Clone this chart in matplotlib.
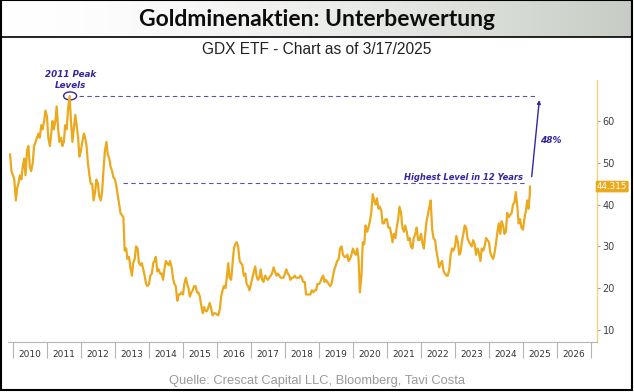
import numpy as np
import pandas as pd
import matplotlib
matplotlib.use("Agg")
import matplotlib.pyplot as plt
from matplotlib import font_manager as fm
from matplotlib.patches import Rectangle, Ellipse

# ---------------- data ----------------
title = "Goldminenaktien: Unterbewertung"
subtitle = "GDX ETF - Chart as of 3/17/2025"
source = "Quelle: Crescat Capital LLC, Bloomberg, Tavi Costa"

years = list(range(2010, 2027))
ytick_vals = [10, 20, 30, 40, 50, 60]

gdx_2009 = [52, 48]
gdx_2010 = [47, 46, 41, 44, 45, 47, 46, 49, 51, 47, 53, 54, 49, 48, 50, 54, 55, 56, 57, 56, 59, 58, 60, 62.5]
gdx_2011 = [61, 56, 54, 57, 60, 58, 60, 63.5, 58, 55, 56, 54, 55, 59, 58, 63, 66, 60, 55, 58, 61.5, 59, 56, 51.5]
gdx_2012 = [53, 55, 57, 56, 54, 50, 47, 45, 45, 41, 43, 46, 45, 42, 41, 43, 49, 53, 55, 52, 51, 49, 48, 46.5]
gdx_2013 = [46, 44.5, 42, 40, 38, 37.5, 37, 29, 29.5, 27, 27.5, 25, 23, 26, 27, 30, 29.5, 26, 25.5, 26, 24.5, 23, 21, 20.5]
gdx_2014 = [21, 23, 23.5, 26, 26.5, 27.5, 24, 24.5, 23.5, 23.5, 22, 24.5, 26.5, 26, 25.5, 26.5, 25, 22.5, 21, 20.5, 17, 18.5, 18.5, 19]
gdx_2015 = [18.5, 21, 22.5, 21, 20, 18, 19, 19.5, 20.5, 20.5, 19, 19, 18, 16, 14, 15.5, 14.5, 14.5, 15.5, 16.5, 15, 13.5, 14, 14]
gdx_2016 = [13.7, 13.5, 15, 18, 19.5, 20.5, 20, 22.5, 26, 22.5, 22, 25.5, 29.5, 30.5, 31, 30, 26.5, 26, 25.5, 23, 23.5, 21, 20.5, 19.5]
gdx_2017 = [21, 22.5, 24, 25.2, 23, 22, 22.5, 24.5, 22, 21.5, 23, 22.5, 22, 22.5, 23, 23.5, 25, 24, 23, 23.5, 23, 22.5, 22.5, 22.5]
gdx_2018 = [23.5, 24.5, 23.5, 23, 22, 22.5, 22.5, 23, 22.5, 22.5, 22.5, 23, 22.5, 21.5, 21.5, 18.5, 18.5, 18.5, 18.5, 19.5, 19, 19.5, 19.5, 21]
gdx_2019 = [21, 21.5, 22.5, 23, 21.5, 22, 21.5, 21, 20.5, 21, 23, 24.5, 25.5, 26.5, 27, 29.5, 30, 28, 27.5, 27.5, 28, 26.5, 27, 28]
gdx_2020 = [29.5, 28.5, 28, 29.5, 27, 19, 23, 31, 30.5, 35, 33.5, 34.5, 36, 38, 42.5, 41, 40, 41.5, 39, 39.5, 38.5, 35.5, 35.5, 36.5]
gdx_2021 = [36.5, 34.5, 34.5, 33, 31, 33, 32, 34.5, 36.5, 39.5, 38, 34.5, 33.5, 35, 33.5, 31.5, 32, 30, 29.5, 32, 33, 34.5, 31.5, 31.5]
gdx_2022 = [33, 31, 29.5, 33, 36, 37.5, 39.5, 41, 34, 32, 31.5, 29, 27, 25, 26, 26.5, 24, 23.5, 23, 23, 24.5, 28, 29.5, 29]
gdx_2023 = [30, 32.5, 31, 28, 28.5, 31, 33, 35, 34.5, 32, 31, 30.5, 30, 31.5, 30.5, 28, 29.5, 28.5, 26.5, 29.5, 29, 30, 32, 31.5]
gdx_2024 = [31, 28.5, 27.5, 27, 28.5, 30.5, 33.5, 35.5, 33, 36, 35, 33, 33.5, 38, 37, 37.5, 38, 40, 40.5, 43, 39.5, 35.5, 36.5, 34.5]
gdx_2025 = [34, 36.5, 38.5, 41, 39, 42.5, 44.315]

last_value = 44.315
last_label = "44.315"
peak_2011 = 66.0
high_12y = 45.1
pct_label = "48%"

values = (gdx_2009 + gdx_2010 + gdx_2011 + gdx_2012 + gdx_2013 + gdx_2014 + gdx_2015 +
          gdx_2016 + gdx_2017 + gdx_2018 + gdx_2019 + gdx_2020 + gdx_2021 + gdx_2022 +
          gdx_2023 + gdx_2024 + gdx_2025)
dates = list(pd.date_range("2009-12-01", "2025-03-15", freq="SMS")) + [pd.Timestamp("2025-03-17")]
t = np.array([d.year + (d.dayofyear - 1) / (366 if d.is_leap_year else 365) for d in dates])
v = np.array(values)

# ---------------- fonts ----------------
_names = {f.name for f in fm.fontManager.ttflist}
if "Liberation Sans Narrow" in _names:
    narrow = dict(family="Liberation Sans Narrow")
else:
    narrow = dict(family="Liberation Sans")

# ---------------- figure ----------------
W, H = 634, 392
fig = plt.figure(figsize=(W / 100, H / 100), dpi=100)
fig.patch.set_facecolor("white")


def fx(px):
    return px / W


def fy(py):
    return 1 - py / H


# title band with gradient
hb = 37
tax = fig.add_axes([fx(1), fy(hb), fx(631), hb / H])
grad = np.linspace(0, 1, 256) ** 1.6
c0 = np.array([1.0, 1.0, 1.0])
c1 = np.array([0.78, 0.80, 0.77])
img = c0[None, :] * (1 - grad[:, None]) + c1[None, :] * grad[:, None]
tax.imshow(img[None, :, :], aspect="auto", extent=[0, 1, 0, 1])
tax.set_axis_off()
fig.text(0.5, fy(19.5), title, ha="center", va="center", fontsize=16.5,
         fontweight="bold", family="Lato", color="#0d0d0d")
fig.add_artist(plt.Line2D([fx(1), fx(632)], [fy(hb), fy(hb)], color="black", lw=1.2))
fig.add_artist(Rectangle((fx(1), fy(390)), fx(631), (390) / H, fill=False,
                         edgecolor="black", lw=1.5, transform=fig.transFigure))

sub_t = fig.text(0.5, fy(50), subtitle, ha="center", va="center", fontsize=10.5,
                 color="#222222", **narrow)
src_t = fig.text(0.5, fy(381), source, ha="center", va="center", fontsize=10.5,
                 color="#9a9a9a", **narrow)

# fit the widths of the narrow-font texts to the reference widths
renderer = fig.canvas.get_renderer()
for txt, target in [(sub_t, 232.0), (src_t, 299.0)]:
    w = txt.get_window_extent(renderer).width
    txt.set_fontsize(10.5 * target / w)

# main axes
x0px, x1px, y0px, y1px = 8, 597, 80, 342
ax = fig.add_axes([fx(x0px), fy(y1px), fx(x1px - x0px), (y1px - y0px) / H])
px_per_year = 34.0
t_left = 2010 + (x0px - 13) / px_per_year
t_right = 2010 + (x1px - 13) / px_per_year
ax.set_xlim(t_left, t_right)
ppu = 4.18
ax.set_ylim(10 - (342 - 330) / ppu, 60 + (121 - 80) / ppu)

gold = "#EBA91E"
ax.plot(t, v, color=gold, lw=1.6, solid_joinstyle="round")

for s in ["top", "left"]:
    ax.spines[s].set_visible(False)
ax.spines["right"].set_color("#F2D27A")
ax.spines["right"].set_linewidth(1.0)
ax.spines["bottom"].set_color("#b5b5b5")
ax.spines["bottom"].set_linewidth(0.8)

ax.yaxis.tick_right()
ax.set_yticks(ytick_vals)
ax.set_yticklabels([str(y) for y in ytick_vals])
ax.tick_params(axis="y", length=2.5, width=0.8, color="#9a9a9a", labelsize=7,
               labelcolor="#404040", pad=1.5)

ax.set_xticks([y + 0.5 for y in years])
ax.set_xticklabels([str(y) for y in years])
ax.set_xticks(list(range(2010, 2028)), minor=True)
ax.tick_params(axis="x", which="major", length=0, labelsize=6.5, labelcolor="#333333", pad=6)
ax.tick_params(axis="x", which="minor", length=11.5, width=0.8, color="#b5b5b5")

# annotations
blue = "#3526A0"
dash_col = "#5b50b0"
t_peak_line0 = 2010 + (79 - 13) / px_per_year
t_peak_line1 = 2010 + (538 - 13) / px_per_year
ax.plot([t_peak_line0, t_peak_line1], [peak_2011, peak_2011], color=dash_col, lw=0.8,
        ls=(0, (4, 3)))
t_high0 = 2010 + (122.7 - 13) / px_per_year
t_high1 = 2010 + (526.7 - 13) / px_per_year
ax.plot([t_high0, t_high1], [high_12y, high_12y], color=dash_col, lw=0.8,
        ls=(0, (4, 3)))

ax.add_patch(Ellipse((2011.68, peak_2011), 13 / px_per_year, 8 / ppu, fill=False,
                     edgecolor=blue, lw=1.0))
ax.text(2011.70, 71.2, "2011 Peak", ha="center", va="center", fontsize=6.3,
        fontweight="bold", style="italic", color=blue, clip_on=False)
ax.text(2011.70, 68.6, "Levels", ha="center", va="center", fontsize=6.3,
        fontweight="bold", style="italic", color=blue, clip_on=False)
ax.text(2025.0, 46.6, "Highest Level in 12 Years", ha="right", va="center",
        fontsize=6.0, fontweight="bold", style="italic", color=blue)
ax.text(2025.82, 55.45, pct_label, ha="center", va="center", fontsize=6.5,
        fontweight="bold", style="italic", color=blue)
ax.annotate("", xy=(2025.48, 65.0), xytext=(2025.256, 46.67),
            arrowprops=dict(arrowstyle="-|>", color=blue, lw=1.0,
                            mutation_scale=5, shrinkA=0, shrinkB=0))

# last value box
ax.text(1.0, last_value, last_label, transform=ax.get_yaxis_transform(),
        ha="left", va="center", fontsize=6.3, color="white", clip_on=False,
        bbox=dict(boxstyle="round,pad=0.15", fc=gold, ec="none"))

fig.savefig("out.png", dpi=100, facecolor="white")
